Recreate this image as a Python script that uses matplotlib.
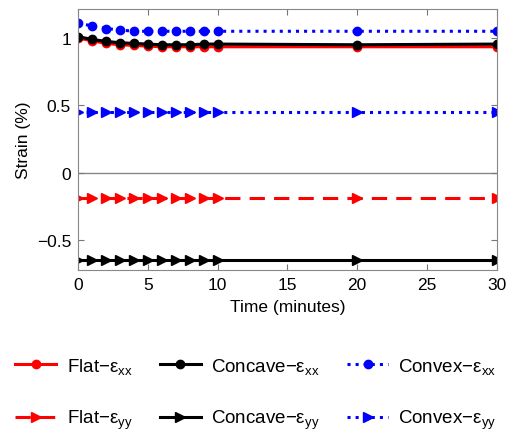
import numpy as np
import matplotlib as mpl
import matplotlib.pyplot as plt

mpl.rcParams['font.family'] = ['Liberation Sans', 'DejaVu Sans']
mpl.rcParams['mathtext.fontset'] = 'custom'
mpl.rcParams['mathtext.rm'] = 'Liberation Sans'
mpl.rcParams['mathtext.it'] = 'Liberation Sans:italic'

t = [0, 1, 2, 3, 4, 5, 6, 7, 8, 9, 10, 20, 30]

flat_xx = [1.00, 0.98, 0.96, 0.95, 0.945, 0.94, 0.935, 0.935, 0.935, 0.935, 0.935, 0.935, 0.935]
concave_xx = [1.01, 0.99, 0.975, 0.965, 0.96, 0.955, 0.95, 0.95, 0.95, 0.955, 0.955, 0.95, 0.955]
convex_xx = [1.11, 1.09, 1.07, 1.06, 1.05, 1.05, 1.05, 1.05, 1.05, 1.05, 1.05, 1.05, 1.05]
flat_yy = [-0.185] * 13
concave_yy = [-0.645] * 13
convex_yy = [0.455] * 13

fig = plt.figure(figsize=(5.08, 4.35), dpi=100)
ax = fig.add_axes([0.1535, 0.377, 0.8245, 0.6])

lw = 2.2
ax.plot(t, flat_xx, 'r-', lw=lw, marker='o', ms=6, label='Flat\u2212\u03b5$_{\\mathrm{xx}}$')
ax.plot(t, flat_yy, 'r--', lw=lw, marker='>', ms=7, dashes=(5, 3), label='Flat\u2212\u03b5$_{\\mathrm{yy}}$')
ax.plot(t, concave_xx, 'k-', lw=lw, marker='o', ms=6, label='Concave\u2212\u03b5$_{\\mathrm{xx}}$')
ax.plot(t, concave_yy, 'k-', lw=lw, marker='>', ms=7, label='Concave\u2212\u03b5$_{\\mathrm{yy}}$')
ax.plot(t, convex_xx, 'b:', lw=lw, marker='o', ms=6, label='Convex\u2212\u03b5$_{\\mathrm{xx}}$')
ax.plot(t, convex_yy, 'b:', lw=lw, marker='>', ms=7, label='Convex\u2212\u03b5$_{\\mathrm{yy}}$')
ax.axhline(0, color='#888888', lw=1, zorder=0)

ax.set_xlim(0, 30)
ax.set_ylim(-0.72, 1.215)
ax.set_xticks([0, 5, 10, 15, 20, 25, 30])
ax.set_yticks([-0.5, 0, 0.5, 1])
ax.set_yticklabels(['\u22120.5', '0', '0.5', '1'])
ax.tick_params(direction='in', top=True, right=True, labelsize=12.5, color='#777777', length=4, pad=5)
for s in ax.spines.values():
    s.set_color('#888888')
ax.set_xlabel('Time (minutes)', fontsize=12.5, labelpad=5)
ax.set_ylabel('Strain (%)', fontsize=12.5, labelpad=4)

fig.legend(loc='upper left', bbox_to_anchor=(15 / 508, 1 - 357 / 435), ncol=3, frameon=False,
           fontsize=13.5, borderpad=0, borderaxespad=0, labelspacing=1.7, handlelength=2.2,
           handletextpad=0.55, columnspacing=1.45)

fig.savefig('out.png', dpi=100)
